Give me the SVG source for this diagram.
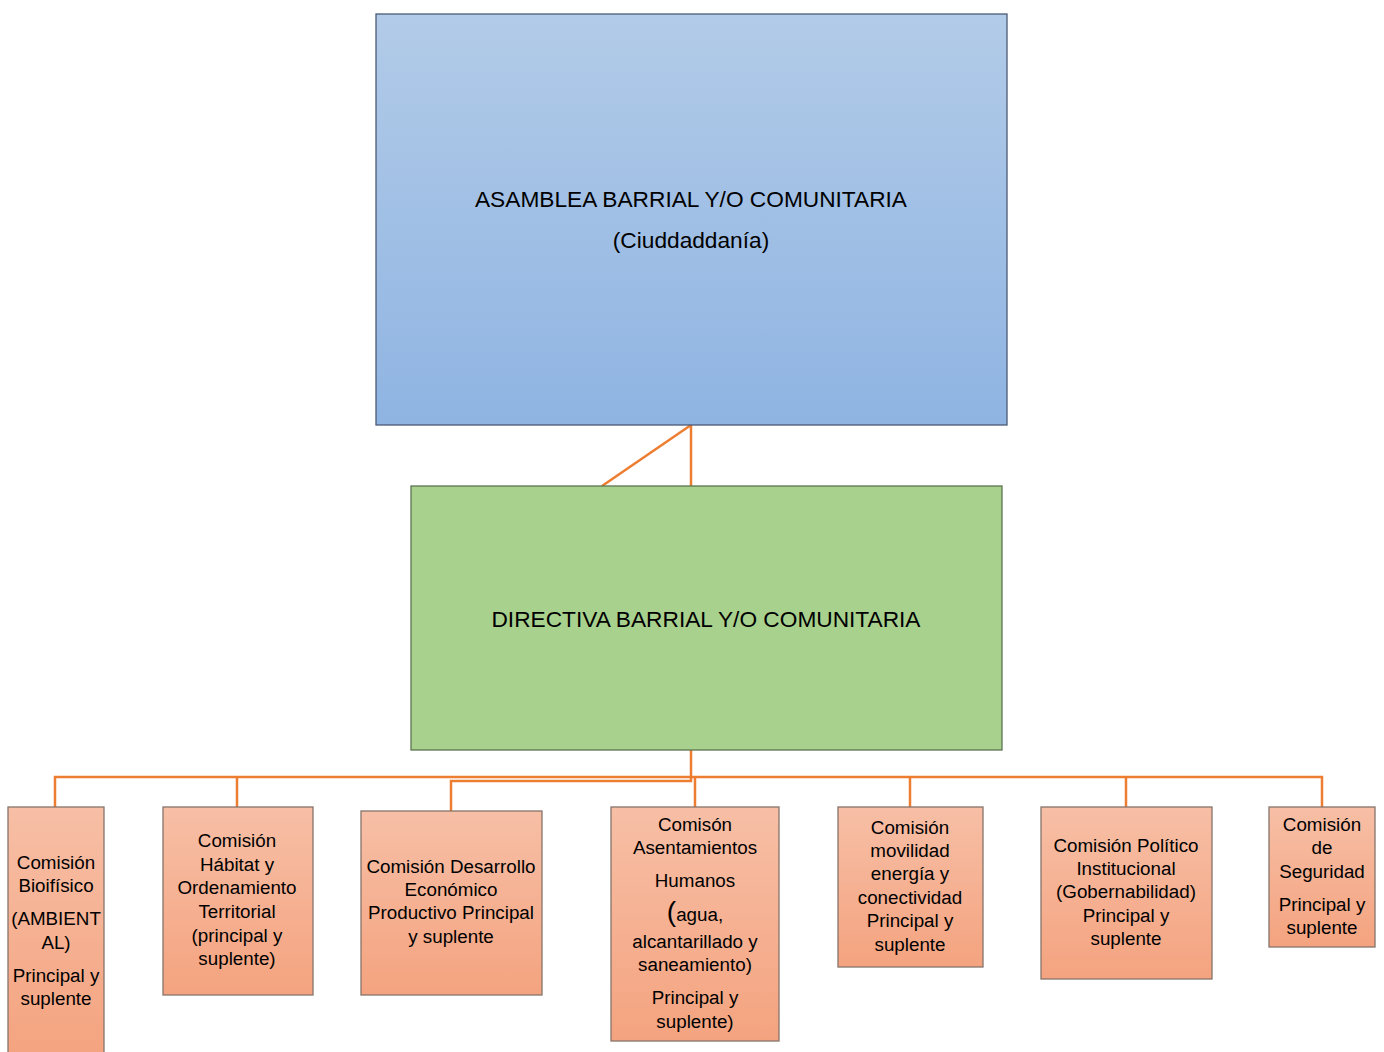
<svg xmlns="http://www.w3.org/2000/svg" width="1384" height="1052" viewBox="0 0 1384 1052">
<defs>
<linearGradient id="gBlue" x1="0" y1="0" x2="0" y2="1"><stop offset="0" stop-color="#b2cbe8"/><stop offset="1" stop-color="#8fb4e2"/></linearGradient>
<linearGradient id="gSal" x1="0" y1="0" x2="0" y2="1"><stop offset="0" stop-color="#f7bfa6"/><stop offset="1" stop-color="#f4a37f"/></linearGradient>
</defs>
<style>
.t{font-family:"Liberation Sans",Arial,sans-serif;fill:#000;text-anchor:middle}
.big{font-size:22.7px}
.sm{font-size:18.8px}
.c{fill:url(#gSal);stroke:#86736a;stroke-width:1.3}
.k{fill:none;stroke:#ed7d31;stroke-width:2.5}
</style>
<rect width="1384" height="1052" fill="#fff"/>
<g id="connectors">
<polyline class="k" points="691,425 691,486"/>
<polyline class="k" points="691,425 602,486"/>
<polyline class="k" points="691,750 691,777"/>
<polyline class="k" points="55,807 55,777 1322,777 1322,807"/>
<polyline class="k" points="237,777 237,807"/>
<polyline class="k" points="695,777 695,807"/>
<polyline class="k" points="910,777 910,807"/>
<polyline class="k" points="1126,777 1126,807"/>
<polyline class="k" points="691,777 691,781 451,781 451,811"/>
</g>
<g id="asamblea">
<rect x="376" y="14" width="631" height="411" fill="url(#gBlue)" stroke="#4a5a75" stroke-width="1.3"/>
<text class="t big" x="691" y="207">ASAMBLEA BARRIAL Y/O COMUNITARIA</text>
<text class="t big" x="691" y="248">(Ciuddaddanía)</text>
</g>
<g id="directiva">
<rect x="411" y="486" width="591" height="264" fill="#a9d18e" stroke="#5b7350" stroke-width="1.3"/>
<text class="t big" x="706" y="627">DIRECTIVA BARRIAL Y/O COMUNITARIA</text>
</g>
<g id="bioifisico">
<rect class="c" x="8" y="807" width="96" height="250"/>
<text class="t sm" x="56"><tspan x="56" y="869">Comisión</tspan><tspan x="56" y="892">Bioifísico</tspan><tspan x="56" y="925">(AMBIENT</tspan><tspan x="56" y="949">AL)</tspan><tspan x="56" y="982">Principal y</tspan><tspan x="56" y="1005">suplente</tspan></text>
</g>
<g id="habitat">
<rect class="c" x="163" y="807" width="150" height="188"/>
<text class="t sm" x="237"><tspan x="237" y="847">Comisión</tspan><tspan x="237" y="871">Hábitat y</tspan><tspan x="237" y="894">Ordenamiento</tspan><tspan x="237" y="918">Territorial</tspan><tspan x="237" y="942">(principal y</tspan><tspan x="237" y="965">suplente)</tspan></text>
</g>
<g id="desarrollo">
<rect class="c" x="361" y="811" width="181" height="184"/>
<text class="t sm" x="451"><tspan x="451" y="873">Comisión Desarrollo</tspan><tspan x="451" y="896">Económico</tspan><tspan x="451" y="919">Productivo Principal</tspan><tspan x="451" y="943">y suplente</tspan></text>
</g>
<g id="asentamientos">
<rect class="c" x="611" y="807" width="168" height="234"/>
<text class="t sm" x="695"><tspan x="695" y="831">Comisón</tspan><tspan x="695" y="854">Asentamientos</tspan><tspan x="695" y="887">Humanos</tspan><tspan x="695" y="921"><tspan font-size="28px">(</tspan>agua,</tspan><tspan x="695" y="948">alcantarillado y</tspan><tspan x="695" y="971">saneamiento)</tspan><tspan x="695" y="1004">Principal y</tspan><tspan x="695" y="1028">suplente)</tspan></text>
</g>
<g id="movilidad">
<rect class="c" x="838" y="807" width="145" height="160"/>
<text class="t sm" x="910"><tspan x="910" y="834">Comisión</tspan><tspan x="910" y="857">movilidad</tspan><tspan x="910" y="880">energía y</tspan><tspan x="910" y="904">conectividad</tspan><tspan x="910" y="927">Principal y</tspan><tspan x="910" y="951">suplente</tspan></text>
</g>
<g id="politico">
<rect class="c" x="1041" y="807" width="171" height="172"/>
<text class="t sm" x="1126"><tspan x="1126" y="852">Comisión Político</tspan><tspan x="1126" y="875">Institucional</tspan><tspan x="1126" y="898">(Gobernabilidad)</tspan><tspan x="1126" y="922">Principal y</tspan><tspan x="1126" y="945">suplente</tspan></text>
</g>
<g id="seguridad">
<rect class="c" x="1269" y="807" width="106" height="140"/>
<text class="t sm" x="1322"><tspan x="1322" y="831">Comisión</tspan><tspan x="1322" y="854">de</tspan><tspan x="1322" y="878">Seguridad</tspan><tspan x="1322" y="911">Principal y</tspan><tspan x="1322" y="934">suplente</tspan></text>
</g>
</svg>
